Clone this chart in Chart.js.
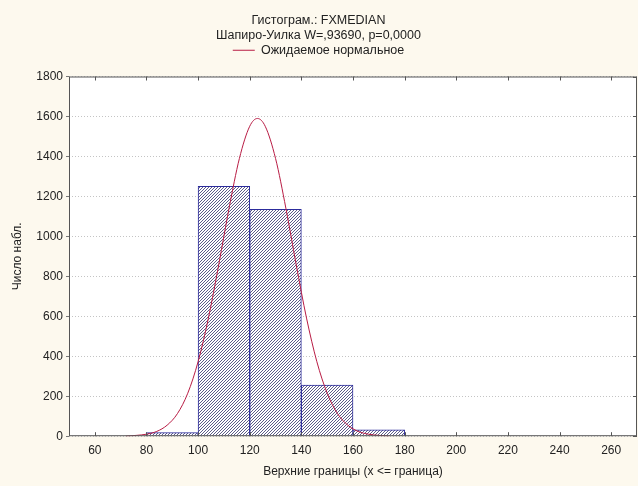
<!DOCTYPE html>
<html>
<head>
<meta charset="utf-8">
<script src="https://cdn.jsdelivr.net/npm/chart.js@4.4.1/dist/chart.umd.min.js"></script>
<style>
  html, body { margin: 0; padding: 0; background: #fdf9ee; }
  #wrap { width: 638px; height: 486px; }
</style>
</head>
<body>
<div id="wrap"><canvas id="histChart" width="638" height="486"></canvas></div>
<script>
// Histogram bins (upper bounds) and counts
const binUpper = [100, 120, 140, 160, 180];
const binCounts = [18, 1250, 1135, 256, 32];
const binWidth = 20;

// Expected normal curve
const curveX = [72, 76, 80, 84, 88, 92, 96, 100, 104, 108, 112, 116, 120, 123, 126, 130, 134, 138, 142, 146, 150, 154, 158, 162, 166, 170, 174];
const curveY = [0, 4, 10, 24, 55, 113, 215, 373, 591, 858, 1141, 1390, 1551, 1590, 1551, 1390, 1141, 858, 591, 373, 215, 113, 55, 24, 10, 4, 0];

// Tick labels
const xTicks = [60, 80, 100, 120, 140, 160, 180, 200, 220, 240, 260];
const yTicks = [0, 200, 400, 600, 800, 1000, 1200, 1400, 1600, 1800];

const textColor = '#222';
const fontFamily = "'Liberation Sans', Arial, sans-serif";
const curveColor = '#b81c44';
const barBorder = '#2c2c9c';

// Hatch pattern for bars: crisp 1px diagonals every 3px
function makeHatch() {
    const pc = document.createElement('canvas');
    pc.width = 3;
    pc.height = 3;
    const p = pc.getContext('2d');
    p.fillStyle = '#ffffff';
    p.fillRect(0, 0, 3, 3);
    p.fillStyle = '#5c5c88';
    for (let i = 0; i < 3; i++) {
        p.fillRect(i, 2 - i, 1, 1);
    }
    return p.createPattern(pc, 'repeat');
}

const barData = binUpper.map((u, i) => ({ x: u - binWidth / 2, y: binCounts[i] }));
const curveData = curveX.map((x, i) => ({ x: x, y: curveY[i] }));

// Frame around the plot and the inner tick marks
const framePlugin = {
    id: 'frame',
    beforeInit(chart) {
        // extra room under the legend
        const fit = chart.legend.fit;
        chart.legend.fit = function () {
            fit.call(chart.legend);
            this.height += 10;
        };
    },
    beforeDraw(chart) {
        const { ctx, chartArea: a } = chart;
        ctx.save();
        ctx.fillStyle = '#ffffff';
        ctx.fillRect(a.left, a.top, a.right - a.left, a.bottom - a.top);
        ctx.restore();
    },
    afterDraw(chart) {
        const { ctx, chartArea: a, scales } = chart;
        ctx.save();
        ctx.strokeStyle = '#555';
        ctx.lineWidth = 1;
        ctx.strokeRect(a.left + 0.5, a.top + 0.5, a.right - a.left - 1, a.bottom - a.top - 1);
        ctx.beginPath();
        xTicks.forEach((t) => {
            const px = Math.round(scales.x.getPixelForValue(t)) + 0.5;
            ctx.moveTo(px, a.bottom);
            ctx.lineTo(px, a.bottom - 4);
            ctx.moveTo(px, a.top);
            ctx.lineTo(px, a.top + 4);
        });
        yTicks.forEach((t) => {
            const py = Math.round(scales.y.getPixelForValue(t)) + 0.5;
            ctx.moveTo(a.right, py);
            ctx.lineTo(a.right - 4, py);
        });
        ctx.stroke();
        ctx.restore();
    }
};

const ctx = document.getElementById('histChart').getContext('2d');
const histChart = new Chart(ctx, {
    type: 'bar',
    data: {
        datasets: [
            {
                type: 'line',
                label: 'Ожидаемое нормальное',
                data: curveData,
                borderColor: curveColor,
                borderWidth: 1,
                pointRadius: 0,
                cubicInterpolationMode: 'monotone',
                order: 0,
            },
            {
                type: 'bar',
                label: 'FXMEDIAN',
                data: barData,
                backgroundColor: makeHatch(),
                borderColor: barBorder,
                borderWidth: 1,
                barPercentage: 1,
                categoryPercentage: 1,
                order: 1,
            },
        ],
    },
    options: {
        responsive: false,
        animation: false,
        layout: { padding: { left: 0, right: 1, bottom: 7, top: 0 } },
        plugins: {
            tooltip: { enabled: false },
            title: {
                display: true,
                text: ['Гистограм.: FXMEDIAN', 'Шапиро-Уилка W=,93690, p=0,0000'],
                color: textColor,
                font: { family: fontFamily, size: 12.5, weight: 'normal' },
                padding: { top: 13, bottom: 0 },
            },
            legend: {
                display: true,
                labels: {
                    color: textColor,
                    font: { family: fontFamily, size: 12.5 },
                    usePointStyle: true,
                    pointStyleWidth: 22,
                    padding: 1,
                    generateLabels: () => [{
                        text: 'Ожидаемое нормальное',
                        strokeStyle: curveColor,
                        fillStyle: curveColor,
                        lineWidth: 1,
                        pointStyle: 'line',
                        fontColor: textColor,
                    }],
                },
            },
        },
        scales: {
            x: {
                type: 'linear',
                min: 50,
                max: 270,
                offset: false,
                afterBuildTicks: (s) => { s.ticks = xTicks.map((v) => ({ value: v })); },
                grid: { display: true, drawOnChartArea: false, drawTicks: false },
                border: { display: false },
                ticks: { color: textColor, font: { family: fontFamily, size: 12 }, padding: 7, maxRotation: 0 },
                title: {
                    display: true,
                    text: 'Верхние границы (x <= граница)',
                    color: textColor,
                    font: { family: fontFamily, size: 12 },
                    padding: { top: 0, bottom: 0 },
                },
            },
            y: {
                min: 0,
                max: 1800,
                afterBuildTicks: (s) => { s.ticks = yTicks.map((v) => ({ value: v })); },
                afterFit: (s) => { s.width = 69; },
                grid: {
                    color: '#c4c4c4',
                    tickColor: '#777',
                    tickLength: 3,
                    tickBorderDash: [],
                },
                border: { display: false, dash: [1, 2] },
                ticks: {
                    color: textColor,
                    font: { family: fontFamily, size: 12 },
                    padding: 3,
                    callback: (v) => String(v),
                },
                title: {
                    display: true,
                    text: 'Число набл.',
                    color: textColor,
                    font: { family: fontFamily, size: 12 },
                    padding: { top: 10, bottom: 0 },
                },
            },
        },
    },
    plugins: [framePlugin],
});
</script>
</body>
</html>
